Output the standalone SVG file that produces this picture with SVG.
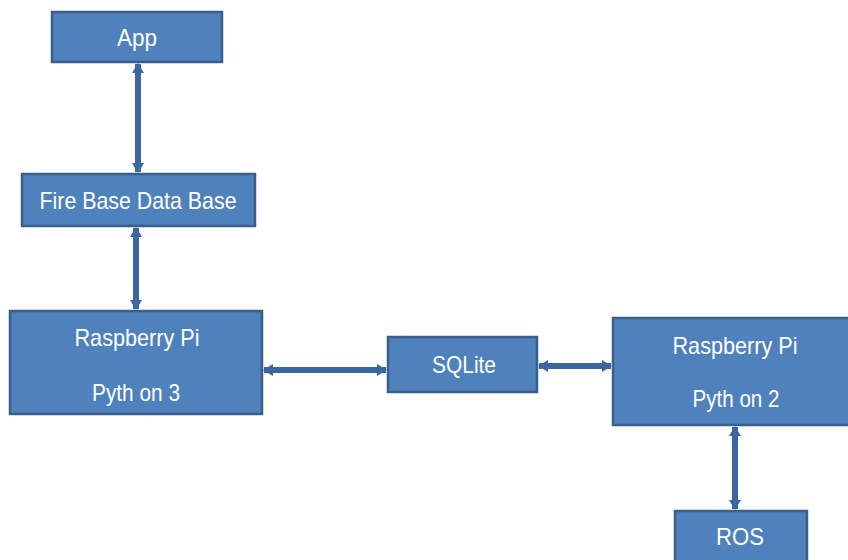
<svg xmlns="http://www.w3.org/2000/svg" width="848" height="560" viewBox="0 0 848 560">
<defs>
<style>
.box{fill:#4F81BD;stroke:#3A5F8C;stroke-width:2.5}
.t{fill:#FFFFFF;font-family:"Liberation Sans",Arial,sans-serif;font-size:24px;text-anchor:middle;dominant-baseline:central}
.c{stroke:#3C66A0;stroke-width:6;fill:none;marker-start:url(#ah);marker-end:url(#ah)}
</style>
<marker id="ah" viewBox="0 0 10 12" refX="9" refY="6" markerWidth="10" markerHeight="12" markerUnits="userSpaceOnUse" orient="auto-start-reverse">
<path d="M0,0 L10,6 L0,12 Z" fill="#3C66A0"/>
</marker>
</defs>
<rect width="848" height="560" fill="#FFFFFF"/>
<g id="connectors">
<line class="c" x1="138" y1="64" x2="138" y2="172"/>
<line class="c" x1="136" y1="228" x2="136" y2="309"/>
<line class="c" x1="264" y1="370" x2="386" y2="370"/>
<line class="c" x1="539" y1="366" x2="611" y2="366"/>
<line class="c" x1="735" y1="427" x2="735" y2="509"/>
</g>
<g id="app"><rect class="box" x="52" y="12" width="170" height="50"/><text class="t" x="137" y="37" textLength="40" lengthAdjust="spacingAndGlyphs">App</text></g>
<g id="firebase"><rect class="box" x="22" y="174" width="233" height="52"/><text class="t" x="138" y="200" textLength="197" lengthAdjust="spacingAndGlyphs">Fire Base Data Base</text></g>
<g id="rpi3"><rect class="box" x="10" y="311" width="252" height="103"/><text class="t" x="137" y="337" textLength="125" lengthAdjust="spacingAndGlyphs">Raspberry Pi</text><text class="t" x="136" y="392" textLength="88" lengthAdjust="spacingAndGlyphs">Pyth on 3</text></g>
<g id="sqlite"><rect class="box" x="388" y="337" width="149" height="55"/><text class="t" x="464" y="364" textLength="64" lengthAdjust="spacingAndGlyphs">SQLite</text></g>
<g id="rpi2"><rect class="box" x="613" y="318" width="245" height="107"/><text class="t" x="735" y="345" textLength="125" lengthAdjust="spacingAndGlyphs">Raspberry Pi</text><text class="t" x="736" y="398" textLength="87" lengthAdjust="spacingAndGlyphs">Pyth on 2</text></g>
<g id="ros"><rect class="box" x="675" y="511" width="132" height="60"/><text class="t" x="740" y="536" textLength="48" lengthAdjust="spacingAndGlyphs">ROS</text></g>
</svg>
